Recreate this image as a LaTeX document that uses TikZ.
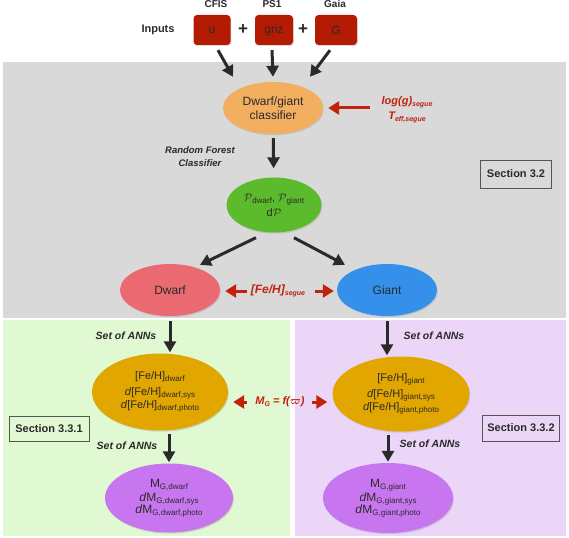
\documentclass[tikz,border=0pt]{standalone}
\usepackage{amsmath}
\usepackage{fontspec}
\setmainfont{Liberation Sans}
\usetikzlibrary{shapes.geometric,arrows.meta,shadows}
\definecolor{bggray}{HTML}{D9D9D9}
\definecolor{bggreen}{HTML}{E1F9D2}
\definecolor{bgpurple}{HTML}{EBD6F8}
\definecolor{boxred}{HTML}{B31C02}
\definecolor{ellorange}{HTML}{F2AF60}
\definecolor{ellgreen}{HTML}{5CBB2C}
\definecolor{ellpink}{HTML}{EB6A72}
\definecolor{ellblue}{HTML}{3490EA}
\definecolor{ellgold}{HTML}{E2A600}
\definecolor{ellviolet}{HTML}{C876F0}
\definecolor{redlab}{HTML}{C0220E}
\definecolor{txtdark}{HTML}{2A2A2A}
\newcommand\sbs[1]{\raisebox{-0.35ex}{\fontsize{8}{9}\selectfont #1}}
\newcommand\rsbs[1]{\raisebox{-0.35ex}{\fontsize{7}{8}\selectfont #1}}
\begin{document}
\begin{tikzpicture}[x=1pt,y=-1pt,
  ell/.style={ellipse, inner sep=0pt, text=txtdark, align=center,
    font=\fontsize{12}{14}\selectfont,
    drop shadow={opacity=0.25, shadow xshift=0.8pt, shadow yshift=-1.2pt}},
  inbox/.style={rectangle, rounded corners=3.5pt, fill=boxred, minimum height=30pt,
    text=txtdark, font=\fontsize{12}{14}\selectfont,
    drop shadow={opacity=0.25, shadow xshift=0.8pt, shadow yshift=-1.2pt}},
  arr/.style={-{Triangle[length=11pt,width=12pt]}, line width=3pt, draw=txtdark},
  redarr/.style={-{Triangle[length=11pt,width=13pt]}, line width=3pt, draw=redlab},
  lab/.style={font=\bfseries\itshape\fontsize{10.5}{12.5}\selectfont, text=txtdark, align=center},
  redtxt/.style={font=\bfseries\itshape\fontsize{11}{14}\selectfont, text=redlab, align=center, inner sep=2pt},
  secbox/.style={draw=txtdark!80, line width=0.8pt, rectangle, font=\bfseries\fontsize{11}{13}\selectfont, text=txtdark},
  toplab/.style={font=\bfseries\fontsize{10}{12}\selectfont, text=txtdark}
]
\useasboundingbox (0,0) rectangle (569,537);
% backgrounds
\fill[bggray] (3,62) rectangle (566,318);
\fill[bggreen] (3,320) rectangle (290,536);
\fill[bgpurple] (295,320) rectangle (566,536);

% inputs
\node[toplab, font=\bfseries\fontsize{11}{13}\selectfont] (inputs) at (158,30) {Inputs};
\node[inbox, minimum width=37pt] (u) at (212,30) {u};
\node[inbox, minimum width=38pt] (griz) at (274,30) {griz};
\node[inbox, minimum width=42pt] (G) at (336,30) {G};
\node[font=\bfseries\fontsize{17}{17}\selectfont, text=txtdark] (p1) at (243,30) {+};
\node[font=\bfseries\fontsize{17}{17}\selectfont, text=txtdark] (p2) at (303,30) {+};
\node[toplab, anchor=base] (cfis) at (216,8) {CFIS};
\node[toplab, anchor=base] (ps1) at (272,8) {PS1};
\node[toplab, anchor=base] (gaia) at (335,8) {Gaia};

% classifier
\node[ell, fill=ellorange, minimum width=100pt, minimum height=52pt] (cls) at (273,108) {Dwarf/giant\\classifier};
\draw[arr] ([xshift=6pt,yshift=-5pt]u.south) -- ([xshift=-40pt,yshift=5pt]cls.north);
\draw[arr] ([xshift=-2pt,yshift=-5pt]griz.south) -- ([xshift=0pt,yshift=5pt]cls.north);
\draw[arr] ([xshift=-6pt,yshift=-5pt]G.south) -- ([xshift=37pt,yshift=5pt]cls.north);

\node[redtxt] (lg) at (407,110) {log(g)\rsbs{segue}\\[1pt]T\rsbs{eff,segue}};
\draw[redarr, shorten >=5pt] ([xshift=-9pt]lg.west |- cls.east) -- (cls.east);

\node[lab, font=\bfseries\itshape\fontsize{9.5}{13}\selectfont] (rfc) at (200,157) {Random Forest\\Classifier};

\node[ell, fill=ellgreen, minimum width=95pt, minimum height=55pt, font=\fontsize{11}{15}\selectfont] (rf) at (274,205)
  {$\mathcal{P}$\sbs{dwarf}, $\mathcal{P}$\sbs{giant}\\d$\mathcal{P}$};
\draw[arr, shorten <=4pt, shorten >=9pt] (cls) -- (rf);

\node[secbox, minimum width=71pt, minimum height=28pt] (s32) at (516,174) {Section 3.2};

% dwarf / giant
\node[ell, fill=ellpink, minimum width=100pt, minimum height=52pt] (dwarf) at (170,290) {Dwarf};
\node[ell, fill=ellblue, minimum width=100pt, minimum height=52pt] (giant) at (387,290) {Giant};
\draw[arr] ([xshift=-18pt,yshift=-5pt]rf.south) -- ([xshift=30pt,yshift=-1pt]dwarf.north);
\draw[arr] ([xshift=20pt,yshift=-5pt]rf.south) -- ([xshift=-42pt,yshift=-1pt]giant.north);

\node[redtxt, font=\bfseries\itshape\fontsize{12}{14}\selectfont] (fehs) at (278,291) {[Fe/H]\rsbs{segue}};
\draw[redarr, shorten <=2pt, shorten >=5pt] (fehs.west) -- (dwarf.east |- fehs.west);
\draw[redarr, shorten <=8pt, shorten >=3pt] (fehs.east) -- (giant.west |- fehs.east);

% dwarf branch
\node[ell, fill=ellgold, minimum width=136pt, minimum height=77pt, font=\fontsize{11}{15}\selectfont] (fehd) at (160,392)
  {[Fe/H]\sbs{dwarf}\\[1pt]\textit{d}[Fe/H]\sbs{dwarf,sys}\\[-2pt]\textit{d}[Fe/H]\sbs{dwarf,photo}};
\draw[arr, shorten <=5pt, shorten >=1pt] (dwarf.south) -- (dwarf.south |- fehd.north);
\node[lab] (ann1) at (126,336) {Set of ANNs};

\node[ell, fill=ellviolet, minimum width=128pt, minimum height=69pt, font=\fontsize{12}{15}\selectfont] (mgd) at (169,498)
  {M\sbs{G,dwarf}\\[-1pt]\textit{d}M\sbs{G,dwarf,sys}\\[-3pt]\textit{d}M\sbs{G,dwarf,photo}};
\draw[arr, shorten <=3pt, shorten >=1pt] (fehd.south -| mgd.north) -- (mgd.north);
\node[lab] (ann2) at (127,446) {Set of ANNs};

\node[secbox, minimum width=80pt, minimum height=25pt] (s331) at (49,429) {Section 3.3.1};

% giant branch
\node[ell, fill=ellgold, minimum width=137pt, minimum height=75pt, font=\fontsize{11}{15}\selectfont] (fehg) at (401,394)
  {[Fe/H]\sbs{giant}\\[1pt]\textit{d}[Fe/H]\sbs{giant,sys}\\[-2pt]\textit{d}[Fe/H]\sbs{giant,photo}};
\draw[arr, shorten <=5pt, shorten >=1pt] (giant.south) -- (giant.south |- fehg.north);
\node[lab] (ann3) at (434,336) {Set of ANNs};

\node[ell, fill=ellviolet, minimum width=130pt, minimum height=70pt, font=\fontsize{12}{15}\selectfont] (mgg) at (388,498)
  {M\sbs{G,giant}\\[-1pt]\textit{d}M\sbs{G,giant,sys}\\[-3pt]\textit{d}M\sbs{G,giant,photo}};
\draw[arr, shorten <=3pt, shorten >=1pt] (fehg.south -| mgg.north) -- (mgg.north);
\node[lab] (ann4) at (430,444) {Set of ANNs};

\node[secbox, minimum width=77pt, minimum height=26pt] (s332) at (521,428) {Section 3.3.2};

% M_G relation
\node[redtxt] (mgf) at (280,402) {M\rsbs{G} = f($\boldsymbol{\varpi}$)};
\draw[redarr, shorten <=6pt, shorten >=5pt] (mgf.west) -- (fehd.east |- mgf.west);
\draw[redarr, shorten <=5pt, shorten >=5pt] (mgf.east) -- (fehg.west |- mgf.east);
\end{tikzpicture}
\end{document}
